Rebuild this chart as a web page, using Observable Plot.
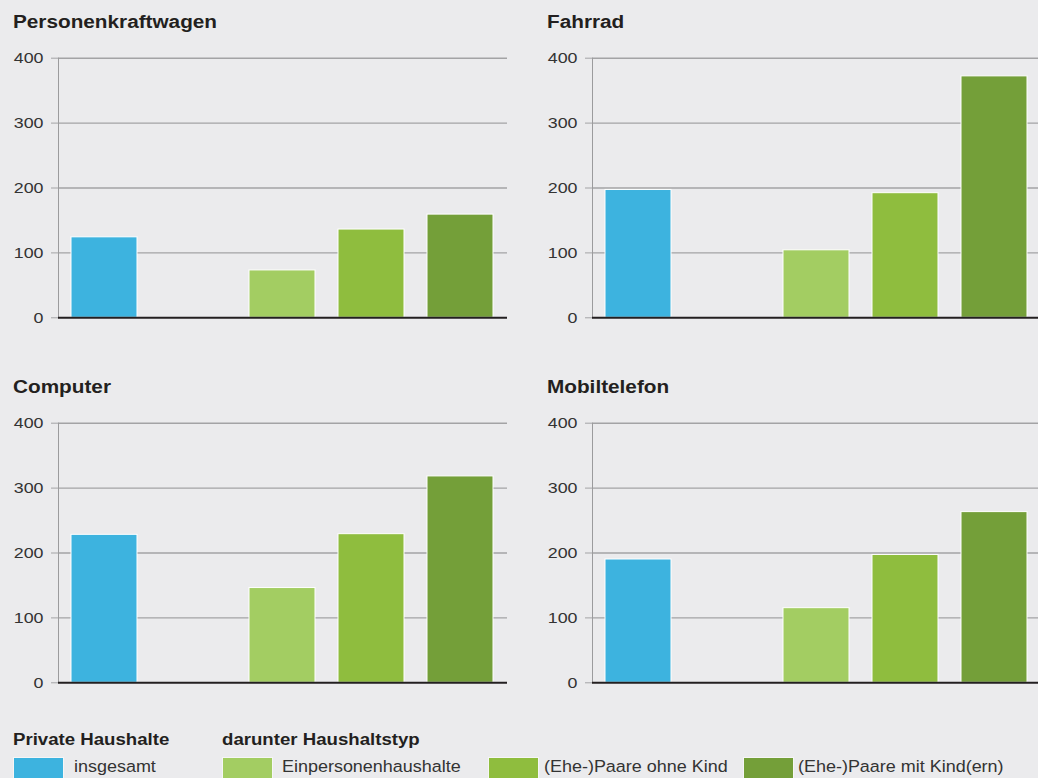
<!DOCTYPE html>
<html>
<head>
<meta charset="utf-8">
<script src="https://cdn.jsdelivr.net/npm/d3@7"></script>
<script src="https://cdn.jsdelivr.net/npm/@observablehq/plot@0.6"></script>
<style>
  html, body { margin: 0; padding: 0; background: #ebebed; overflow: hidden; }
  #root { position: relative; width: 1038px; height: 778px; overflow: hidden; background: #ebebed;
          font-family: "Liberation Sans", Arial, sans-serif; color: #231f20; }
  .abs { position: absolute; white-space: nowrap; line-height: 1; }
  .stretch { display: inline-block; transform: scaleX(1.11); transform-origin: left center; }
  .ltext .stretch { transform: scaleX(1.07); }
  .title { font-weight: bold; font-size: 18.7px; }
  .lhead { font-weight: bold; font-size: 16.8px; }
  .ltext { font-size: 16.8px; color: #333; }
  .sw { position: absolute; width: 51px; height: 24px; box-sizing: border-box; border: 1px solid #f6f6f6; }
  svg { position: absolute; overflow: visible; }
</style>
</head>
<body>
<div id="root"></div>
<script>
// ---- data ----
const panelTitles = ["Personenkraftwagen", "Fahrrad", "Computer", "Mobiltelefon"];
const categories = ["insgesamt", "Einpersonenhaushalte", "(Ehe-)Paare ohne Kind", "(Ehe-)Paare mit Kind(ern)"];
const spacer = "spacer";
const pkwValues = [124, 73, 136, 159];
const fahrradValues = [197, 104, 192, 372];
const computerValues = [228, 146, 229, 318];
const mobilValues = [190, 115, 197, 263];
const barColors = ["#3db3df", "#a3cd62", "#8fbd3e", "#749f39"];
const yTicks = [0, 100, 200, 300, 400];
const legendHeadings = ["Private Haushalte", "darunter Haushaltstyp"];

const seriesByPanel = [pkwValues, fahrradValues, computerValues, mobilValues];
const xDomain = [categories[0], spacer, ...categories.slice(1)];

const root = document.getElementById("root");

function stretchText(svg, s, fs) {
  svg.querySelectorAll("text").forEach(t => {
    t.setAttribute("font-size", fs);
    t.style.fontSize = fs + "px";
    const tr = t.getAttribute("transform");
    if (tr) t.setAttribute("transform", tr + ` scale(${s},1)`);
    else {
      const x = +(t.getAttribute("x") || 0);
      t.setAttribute("transform", `translate(${x},0) scale(${s},1) translate(${-x},0)`);
    }
  });
}

const panelPos = [
  {left: 0, top: 0}, {left: 534, top: 0},
  {left: 0, top: 365.4}, {left: 534, top: 365.4}
];

panelTitles.forEach((title, i) => {
  const pos = panelPos[i];
  const data = categories.map((c, j) => ({cat: c, value: seriesByPanel[i][j]}));

  const t = document.createElement("div");
  t.className = "abs title";
  t.style.left = (pos.left + 13.3) + "px";
  t.style.top = (pos.top + 28.7 - 0.8465 * 18.7) + "px";
  t.innerHTML = `<span class="stretch">${title}</span>`;
  root.appendChild(t);

  const svg = Plot.plot({
    width: 519,
    height: 288,
    marginLeft: 58,
    marginRight: 12,
    marginTop: 17.7,
    marginBottom: 10.7,
    style: {background: "transparent", fontSize: "15.5px", fontFamily: "'Liberation Sans', Arial, sans-serif", color: "#333"},
    x: {type: "band", domain: xDomain, paddingInner: 0.253, paddingOuter: 0.134, axis: null},
    y: {domain: [0, 400], axis: null},
    color: {domain: categories, range: barColors},
    marks: [
      Plot.ruleY(yTicks.slice(1), {stroke: "#a3a3a5", strokeWidth: 1.4}),
      Plot.axisY(yTicks, {tickSize: 7, tickPadding: 8, stroke: "#a3a3a5", fill: "#333", label: null, fontSize: 15.5}),
      Plot.barY(data, {x: "cat", y: "value", fill: "cat", stroke: "#ffffff", strokeWidth: 1, inset: 0}),
      Plot.frame({anchor: "left", stroke: "#9b9b9d", strokeWidth: 1}),
      Plot.ruleY([0], {stroke: "#231f20", strokeWidth: 2})
    ]
  });
  svg.style.left = pos.left + "px";
  svg.style.top = (pos.top + 40) + "px";
  stretchText(svg, 1.15, 15.5);
  root.appendChild(svg);
});

// ---- legend ----
function addText(cls, txt, left, baseline, fs) {
  const d = document.createElement("div");
  d.className = "abs " + cls;
  d.style.left = left + "px";
  d.style.top = (baseline - 0.8465 * fs) + "px";
  d.innerHTML = `<span class="stretch">${txt}</span>`;
  root.appendChild(d);
}
addText("lhead", legendHeadings[0], 13.3, 746, 16.8);
addText("lhead", legendHeadings[1], 221.7, 746, 16.8);

const swatchX = [13, 222, 488, 743];
const textX = [74, 282, 544, 798];
categories.forEach((c, i) => {
  const s = document.createElement("div");
  s.className = "sw";
  s.style.left = swatchX[i] + "px";
  s.style.top = "756.5px";
  s.style.background = barColors[i];
  root.appendChild(s);
  addText("ltext", c, textX[i], 773.3, 16.8);
});
</script>
</body>
</html>
